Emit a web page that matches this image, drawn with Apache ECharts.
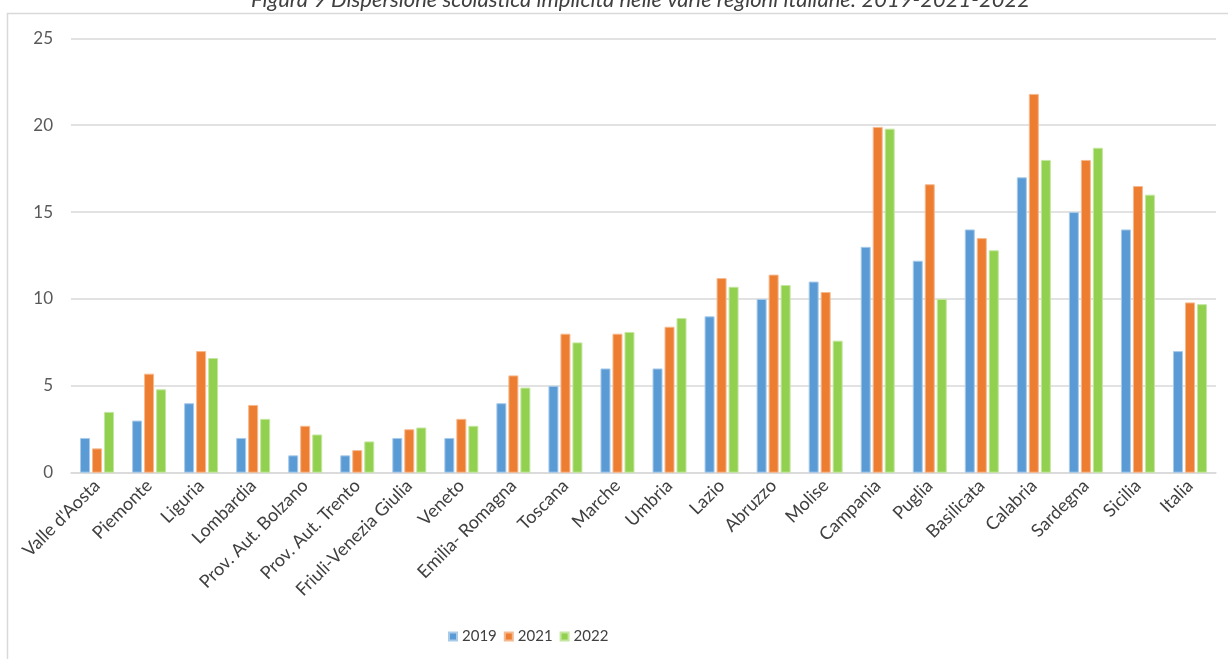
<!DOCTYPE html>
<html>
<head>
<meta charset="utf-8">
<script src="https://cdn.jsdelivr.net/npm/echarts@6/dist/echarts.min.js"></script>
<style>
  html, body { margin: 0; padding: 0; background: #ffffff; }
  #chart { width: 1228px; height: 659px; }
</style>
</head>
<body>
<div id="chart"></div>
<script>
// Implicit school dropout by region (%), 2019 / 2021 / 2022
const regions = [
  "Valle d'Aosta", "Piemonte", "Liguria", "Lombardia", "Prov. Aut. Bolzano",
  "Prov. Aut. Trento", "Friuli-Venezia Giulia", "Veneto", "Emilia- Romagna",
  "Toscana", "Marche", "Umbria", "Lazio", "Abruzzo", "Molise", "Campania",
  "Puglia", "Basilicata", "Calabria", "Sardegna", "Sicilia", "Italia"
];
const years = ["2019", "2021", "2022"];
const values2019 = [2, 3, 4, 2, 1, 1, 2, 2, 4, 5, 6, 6, 9, 10, 11, 13, 12.2, 14, 17, 15, 14, 7];
const values2021 = [1.4, 5.7, 7, 3.9, 2.7, 1.3, 2.5, 3.1, 5.6, 8, 8, 8.4, 11.2, 11.4, 10.4, 19.9, 16.6, 13.5, 21.8, 18, 16.5, 9.8];
const values2022 = [3.5, 4.8, 6.6, 3.1, 2.2, 1.8, 2.6, 2.7, 4.9, 7.5, 8.1, 8.9, 10.7, 10.8, 7.6, 19.8, 10, 12.8, 18, 18.7, 16, 9.7];
const yTicks = [0, 5, 10, 15, 20, 25];
const titleText = "Figura 9 Dispersione scolastica implicita nelle varie regioni italiane: 2019-2021-2022";

const palette = ["#5B9BD5", "#ED7D31", "#92D050"];
const edges = ["#a9cbea", "#f5b98f", "#c4e69f"];
const seriesValues = [values2019, values2021, values2022];

const chart = echarts.init(document.getElementById('chart'), null, { renderer: 'canvas' });

const font = "Lato, 'Open Sans', sans-serif";

chart.setOption({
  animation: false,
  backgroundColor: '#ffffff',
  textStyle: { fontFamily: font },
  graphic: [
    {
      type: 'rect',
      shape: { x: 7.5, y: 13.5, width: 1260, height: 700 },
      style: { fill: 'none', stroke: '#d9d9d9', lineWidth: 1.5 },
      z: 0
    },
    {
      type: 'text',
      x: 1030, y: 0,
      style: {
        text: titleText,
        font: "italic 22px " + font,
        fill: '#404040',
        align: 'right',
        verticalAlign: 'middle'
      }
    }
  ],
  grid: { left: 71, right: 12, top: 38.3, bottom: 186.3, containLabel: false },
  legend: {
    data: years,
    bottom: 10,
    left: 443,
    icon: 'rect',
    itemWidth: 8,
    itemHeight: 8,
    itemGap: 7,
    textStyle: { fontFamily: font, fontSize: 15, color: '#404040' }
  },
  xAxis: {
    type: 'category',
    data: regions,
    axisLine: { show: true, lineStyle: { color: '#d9d9d9', width: 1.5 } },
    axisTick: { show: false },
    axisLabel: {
      interval: 0,
      rotate: 45,
      margin: 10,
      fontFamily: font,
      fontSize: 18,
      color: '#404040'
    }
  },
  yAxis: {
    type: 'value',
    min: yTicks[0],
    max: yTicks[yTicks.length - 1],
    interval: 5,
    axisLine: { show: false },
    axisTick: { show: false },
    splitLine: { lineStyle: { color: '#d9d9d9', width: 1.5 } },
    axisLabel: { margin: 18, fontFamily: font, fontSize: 17, color: '#595959' }
  },
  series: years.map((y, i) => ({
    name: y,
    type: 'bar',
    data: seriesValues[i],
    barWidth: 10,
    barGap: '20%',
    itemStyle: { color: palette[i], borderColor: edges[i], borderWidth: 1 }
  }))
});
</script>
</body>
</html>
